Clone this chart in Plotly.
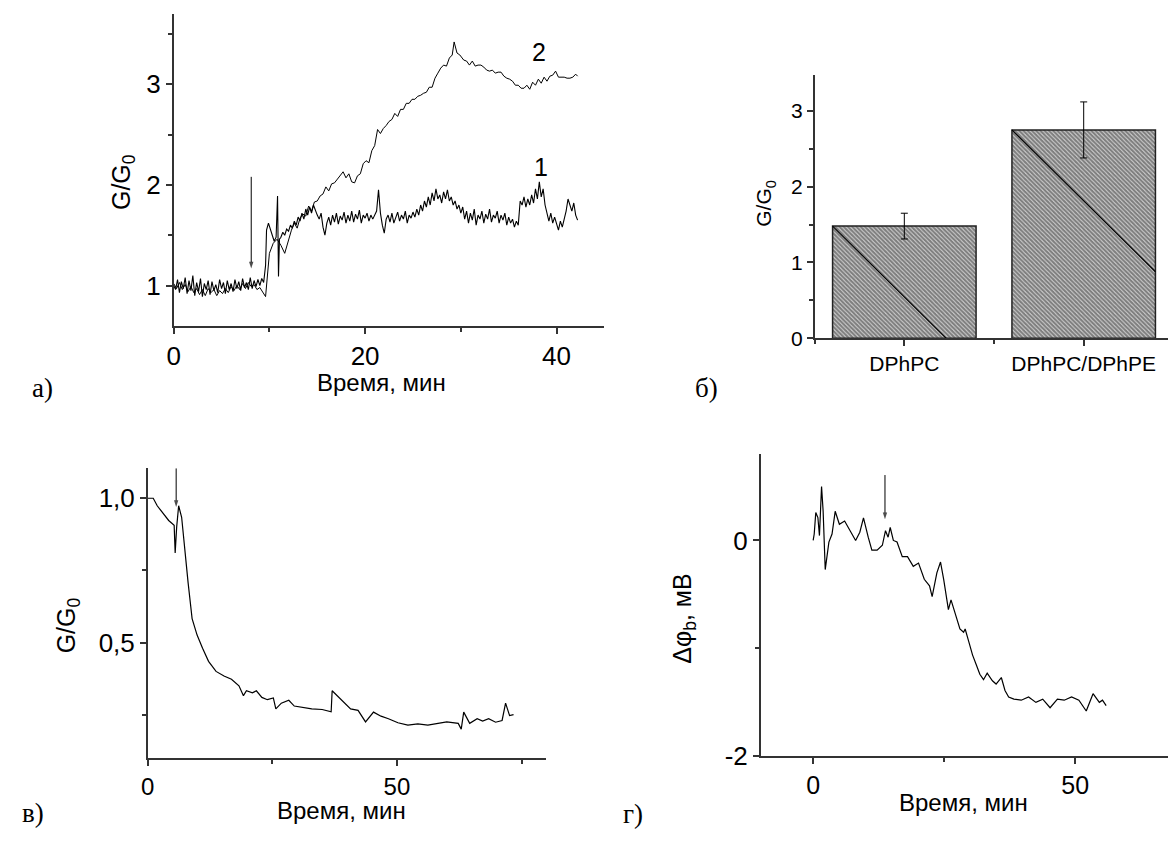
import plotly.graph_objects as go

# ---------------- data ----------------
# Panel а: G/G0 vs time, curve 1 (lower) and curve 2 (upper)
T1 = [0.0, 0.2, 0.4, 0.6, 0.8, 1.0, 1.2, 1.4, 1.6, 1.8, 2.0, 2.2, 2.4, 2.6, 2.8, 3.0, 3.2, 3.4, 3.6, 3.8,
      4.0, 4.2, 4.4, 4.6, 4.8, 5.0, 5.2, 5.4, 5.6, 5.8, 6.0, 6.2, 6.4, 6.6, 6.8, 7.0, 7.2, 7.4, 7.6, 7.8,
      8.0, 8.2, 8.4, 8.6, 8.8, 9.0, 9.2, 9.4,
      9.6, 9.7, 9.9, 10.1, 10.3, 10.5, 10.7, 10.85, 10.95, 11.05,
      11.2, 11.4, 11.6, 11.8, 12.0, 12.2, 12.4, 12.6, 12.8, 13.0, 13.2, 13.4, 13.6, 13.8, 14.0, 14.2, 14.4,
      14.6, 14.8, 15.0,
      15.2, 15.4, 15.6, 15.8, 16.0, 16.2, 16.4, 16.6, 16.8, 17.0, 17.2, 17.4, 17.6, 17.8, 18.0, 18.2, 18.4,
      18.6, 18.8, 19.0, 19.2, 19.4, 19.6, 19.8, 20.0,
      20.2, 20.4, 20.6, 20.8, 21.0, 21.2, 21.4, 21.6, 21.8, 22.0, 22.2, 22.4, 22.6, 22.8, 23.0, 23.2, 23.4,
      23.6, 23.8, 24.0, 24.2, 24.4, 24.6, 24.8, 25.0,
      25.2, 25.4, 25.6, 25.8, 26.0, 26.2, 26.4, 26.6, 26.8, 27.0, 27.2, 27.4, 27.6, 27.8, 28.0, 28.2, 28.4,
      28.6, 28.8, 29.0, 29.2, 29.4, 29.6, 29.8, 30.0,
      30.2, 30.4, 30.6, 30.8, 31.0, 31.2, 31.4, 31.6, 31.8, 32.0, 32.2, 32.4, 32.6, 32.8, 33.0, 33.2, 33.4,
      33.6, 33.8, 34.0, 34.2, 34.4, 34.6, 34.8, 35.0,
      35.2, 35.4, 35.6, 35.8, 36.0, 36.2, 36.4, 36.6, 36.8, 37.0, 37.2, 37.4, 37.6, 37.8, 38.0,
      38.2, 38.4, 38.6, 38.8, 39.0, 39.2, 39.4, 39.6, 39.8, 40.0, 40.2, 40.4, 40.6, 40.8, 41.0, 41.2, 41.4,
      41.6, 41.8, 42.0, 42.2]
G1 = [1.00, 0.96, 1.06, 0.93, 1.04, 0.97, 1.08, 0.92, 1.05, 0.95, 1.10, 0.90, 1.03, 0.94, 1.07, 0.89, 1.02, 0.96, 1.05, 0.91,
      1.04, 0.95, 1.01, 0.93, 1.06, 0.97, 1.03, 0.92, 1.05, 0.96, 1.02, 0.94, 1.06, 0.97, 1.04, 0.95, 1.07, 0.98, 1.03, 0.96,
      1.08, 0.97, 1.05, 0.99, 1.06, 1.00, 1.07, 1.03,
      1.20, 1.55, 1.62, 1.55, 1.50, 1.44, 1.48, 1.89, 1.09, 1.46,
      1.48, 1.53, 1.50, 1.56, 1.54, 1.60, 1.57, 1.64, 1.60, 1.68, 1.64, 1.72, 1.66, 1.76, 1.70, 1.78, 1.72,
      1.80, 1.74, 1.70,
      1.66, 1.72, 1.58, 1.50, 1.62, 1.68, 1.60, 1.70, 1.63, 1.72, 1.61, 1.69, 1.65, 1.73, 1.62, 1.70, 1.64,
      1.74, 1.63, 1.71, 1.66, 1.75, 1.62, 1.70, 1.67,
      1.72, 1.64, 1.70, 1.66, 1.70, 1.74, 1.95, 1.72, 1.60, 1.52, 1.66, 1.70, 1.63, 1.72, 1.62, 1.68, 1.73,
      1.64, 1.70, 1.66, 1.74, 1.62, 1.70, 1.67, 1.73,
      1.68, 1.76, 1.70, 1.80, 1.74, 1.84, 1.78, 1.88, 1.80, 1.92, 1.84, 1.96, 1.86, 1.90, 1.82, 1.93, 1.86,
      1.95, 1.84, 1.88, 1.80, 1.84, 1.76, 1.80, 1.72,
      1.78, 1.66, 1.74, 1.62, 1.72, 1.65, 1.76, 1.60, 1.70, 1.66, 1.74, 1.62, 1.71, 1.66, 1.76, 1.63, 1.70,
      1.67, 1.74, 1.62, 1.70, 1.65, 1.72, 1.60, 1.68,
      1.62, 1.66, 1.58, 1.64, 1.60, 1.84, 1.80, 1.88, 1.78, 1.86, 1.80, 1.90, 1.82, 1.96, 1.86,
      2.03, 1.88, 1.96, 1.80, 1.70, 1.64, 1.72, 1.62, 1.68, 1.60, 1.55, 1.64, 1.58, 1.66, 1.74, 1.86, 1.80,
      1.74, 1.82, 1.70, 1.65]

T2 = [0.0, 0.3, 0.6, 0.9, 1.2, 1.5, 1.8, 2.1, 2.4, 2.7, 3.0, 3.3, 3.6, 3.9, 4.2, 4.5, 4.8, 5.1, 5.4, 5.7,
      6.0, 6.3, 6.6, 6.9, 7.2, 7.5, 7.8, 8.1, 8.4, 8.7, 9.0, 9.3, 9.6, 10.0, 10.4, 10.8, 11.2, 11.6, 12.0,
      12.3, 12.6, 12.9, 13.2, 13.5, 13.8, 14.1, 14.4, 14.7, 15.0, 15.3, 15.6, 15.9, 16.2, 16.5, 16.8, 17.1,
      17.4, 17.7, 18.0, 18.3, 18.6, 18.9, 19.2, 19.5, 19.8, 20.1, 20.4, 20.7, 21.0, 21.3, 21.6, 21.9, 22.2,
      22.5, 22.8, 23.1, 23.4, 23.7, 24.0, 24.3, 24.6, 24.9, 25.2, 25.5, 25.8, 26.1, 26.4, 26.7, 27.0, 27.3,
      27.6, 27.9, 28.2, 28.5, 28.8, 29.1, 29.3, 29.6, 29.9, 30.3, 30.6, 30.9, 31.2, 31.5, 31.8, 32.1, 32.4,
      32.7, 33.0, 33.3, 33.6, 33.9, 34.2, 34.5, 34.8, 35.1, 35.4, 35.7, 36.0, 36.3, 36.6, 36.9, 37.2, 37.5,
      37.8, 38.1, 38.4, 38.7, 39.0, 39.3, 39.6, 39.9, 40.2, 40.5, 40.8, 41.1, 41.4, 41.7, 42.0, 42.2]
G2 = [1.02, 0.97, 1.03, 0.96, 1.01, 0.94, 0.99, 0.93, 0.97, 0.91, 0.96, 0.90, 0.97, 0.93, 0.96, 0.90, 0.95, 0.92, 0.97, 0.93,
      0.99, 0.95, 1.00, 0.96, 1.02, 0.97, 1.03, 0.99, 1.01, 0.96, 0.98, 0.93, 0.89, 1.32, 1.42, 1.46, 1.40, 1.32, 1.45,
      1.55, 1.62, 1.57, 1.67, 1.71, 1.69, 1.79, 1.74, 1.83, 1.84, 1.89, 1.91, 1.98, 1.94, 2.01, 2.02, 2.06,
      2.09, 2.13, 2.07, 2.11, 2.03, 2.02, 2.09, 2.11, 2.21, 2.24, 2.22, 2.34, 2.39, 2.55, 2.51, 2.56, 2.59,
      2.63, 2.65, 2.71, 2.68, 2.75, 2.75, 2.81, 2.81, 2.85, 2.85, 2.88, 2.89, 2.91, 2.92, 2.97, 2.97, 3.06,
      3.11, 3.16, 3.19, 3.18, 3.26, 3.29, 3.42, 3.31, 3.29, 3.24, 3.23, 3.19, 3.23, 3.18, 3.19, 3.19, 3.17,
      3.14, 3.13, 3.14, 3.11, 3.12, 3.12, 3.08, 3.06, 3.05, 3.03, 2.99, 2.99, 2.96, 2.96, 2.99, 2.95, 3.02,
      2.99, 3.05, 3.01, 3.07, 3.03, 3.08, 3.09, 3.13, 3.07, 3.07, 3.07, 3.06, 3.06, 3.07, 3.10, 3.08]

ARROW_A = (8.1, 2.08, 1.17)   # time, tail value, head value
LABELS_A = [("2", 38.2, 3.32), ("1", 38.4, 2.18)]

# Panel б: bar chart
CATS = ["DPhPC", "DPhPC/DPhPE"]
BAR_VALS = [1.48, 2.75]
BAR_ERR = [0.17, 0.37]

# Panel в: G/G0 vs time
TC = [0.0, 1.1, 1.9, 3.0, 4.2, 5.3, 5.5, 5.8, 6.2, 6.8, 7.4, 8.1, 8.9, 9.9, 11.0, 12.2, 13.7, 15.3, 16.8,
      18.3, 19.2, 19.8, 21.0, 21.8, 22.9, 24.0, 25.2, 25.7, 26.8, 28.3, 29.4, 31.0, 32.9, 35.0, 36.8, 37.0,
      38.4, 39.5, 40.7, 42.2, 43.7, 45.3, 46.8, 48.3, 50.2, 52.2, 54.2, 56.2, 58.0, 60.0, 62.3, 62.9, 63.4,
      64.6, 66.1, 67.2, 68.4, 69.8, 71.1, 71.8, 72.6, 73.4]
GC = [1.00, 1.00, 0.974, 0.951, 0.923, 0.906, 0.81, 0.90, 0.974, 0.934, 0.821, 0.707, 0.583, 0.526, 0.48,
      0.435, 0.40, 0.384, 0.373, 0.35, 0.316, 0.333, 0.326, 0.333, 0.31, 0.302, 0.308, 0.27, 0.29, 0.30,
      0.28, 0.276, 0.27, 0.268, 0.26, 0.333, 0.31, 0.29, 0.27, 0.265, 0.225, 0.259, 0.245, 0.236, 0.222,
      0.214, 0.218, 0.214, 0.220, 0.225, 0.22, 0.20, 0.259, 0.22, 0.236, 0.228, 0.236, 0.224, 0.23, 0.29,
      0.247, 0.25]
ARROW_C = (5.7, 1.104, 0.97)

# Panel г: Δφb vs time
TD = [0.0, 0.2, 0.5, 0.9, 1.2, 1.6, 1.9, 2.3, 3.0, 3.6, 4.2, 5.0, 6.0, 7.1, 8.1, 8.9, 9.6, 10.5, 11.2,
      12.2, 13.2, 13.8, 14.3, 14.7, 15.3, 16.0, 17.0, 18.0, 19.1, 20.1, 21.2, 22.2, 22.7, 23.6, 24.3, 24.9,
      25.8, 26.3, 27.3, 28.0, 28.7, 29.0, 29.7, 30.4, 31.1, 31.8, 32.5, 33.2, 34.2, 34.9, 35.9, 36.6, 37.3,
      38.3, 39.7, 41.1, 42.5, 43.8, 45.2, 46.6, 47.9, 49.3, 50.7, 52.1, 53.4, 54.6, 55.2, 55.9]
PD = [0.0, 0.06, 0.258, 0.212, 0.045, 0.50, 0.273, -0.27, -0.015, 0.06, 0.27, 0.15, 0.18, 0.09, 0.0,
      0.076, 0.21, 0.03, -0.09, -0.09, -0.045, 0.09, 0.03, 0.12, 0.0, -0.015, -0.15, -0.15, -0.24, -0.21,
      -0.36, -0.42, -0.52, -0.30, -0.20, -0.36, -0.64, -0.55, -0.70, -0.82, -0.85, -0.82, -0.94, -1.06,
      -1.15, -1.24, -1.29, -1.23, -1.30, -1.33, -1.27, -1.39, -1.45, -1.47, -1.48, -1.45, -1.50, -1.47,
      -1.55, -1.47, -1.48, -1.45, -1.48, -1.58, -1.42, -1.50, -1.48, -1.53]
ARROW_D = (13.7, 0.606, 0.197)

# ---------------- layout constants ----------------
W, H = 1168, 845
SANS = "Liberation Sans, Arial, sans-serif"
SERIF = "Liberation Serif, Times New Roman, serif"
AX = "#333333"


def px_x(p):
    return p / W


def px_y(p):
    return 1 - p / H


DOM = {
    "a": dict(x=[px_x(167.7), px_x(601)], y=[px_y(331.7), px_y(14)]),
    "b": dict(x=[px_x(812.5), 1.0], y=[px_y(344.3), px_y(76)]),
    "c": dict(x=[px_x(141.6), px_x(542.7)], y=[px_y(771.7), px_y(476.7)]),
    "d": dict(x=[px_x(758.3), 1.0], y=[px_y(770), px_y(462.3)]),
}
RANGE = {
    "a": dict(x=[0, 45], y=[0.6, 3.7]),
    "b": dict(x=[0.5, 2.47], y=[0, 3.48]),
    "c": dict(x=[0, 80], y=[0.1, 1.104]),
    "d": dict(x=[-10, 67.7], y=[-2, 0.8]),
}

fig = go.Figure()

fig.add_trace(go.Scatter(x=T1, y=G1, mode="lines", line=dict(color="black", width=1.1),
                         xaxis="x", yaxis="y", showlegend=False))
fig.add_trace(go.Scatter(x=T2, y=G2, mode="lines", line=dict(color="black", width=1),
                         xaxis="x", yaxis="y", showlegend=False))

fig.add_trace(go.Bar(
    x=[1, 2], y=BAR_VALS, width=0.8, xaxis="x2", yaxis="y2", showlegend=False,
    marker=dict(color="white", line=dict(color="#222222", width=1.5),
                pattern=dict(shape="\\", fgcolor="black", bgcolor="white", size=3, solidity=0.8)),
    error_y=dict(type="data", array=BAR_ERR, color="black", thickness=1, width=3.5),
))

# single darker diagonal line inside each bar (45 deg in screen space)
bx0, bx1 = DOM["b"]["x"]
by0, by1 = DOM["b"]["y"]
sx = (bx1 - bx0) * W / (RANGE["b"]["x"][1] - RANGE["b"]["x"][0])
sy = (by1 - by0) * H / (RANGE["b"]["y"][1] - RANGE["b"]["y"][0])
for i, v in enumerate(BAR_VALS):
    xl, xr = (i + 1) - 0.4, (i + 1) + 0.4
    dx_full = v * sy / sx
    if xl + dx_full <= xr:
        xe, ye = xl + dx_full, 0
    else:
        xe, ye = xr, v - (xr - xl) * sx / sy
    fig.add_trace(go.Scatter(x=[xl, xe], y=[v, ye], mode="lines", line=dict(color="black", width=1.2),
                             xaxis="x2", yaxis="y2", showlegend=False, hoverinfo="skip"))

fig.add_trace(go.Scatter(x=TC, y=GC, mode="lines", line=dict(color="black", width=1.2),
                         xaxis="x3", yaxis="y3", showlegend=False))
fig.add_trace(go.Scatter(x=TD, y=PD, mode="lines", line=dict(color="black", width=1.2),
                         xaxis="x4", yaxis="y4", showlegend=False))

# arrows marking the moment of addition
for (t, tail, head), xa, ya in [(ARROW_A, "x", "y"), (ARROW_C, "x3", "y3"), (ARROW_D, "x4", "y4")]:
    fig.add_trace(go.Scatter(
        x=[t, t], y=[tail, head], mode="lines+markers", xaxis=xa, yaxis=ya, showlegend=False,
        hoverinfo="skip", line=dict(color="black", width=1),
        marker=dict(symbol=["line-ns", "arrow"], size=[0, 7], angleref="previous", color="black",
                    line=dict(width=0)),
    ))

common = dict(showline=True, linecolor=AX, linewidth=1.5, ticks="outside", ticklen=6, tickwidth=1.5,
              tickcolor=AX, showgrid=False, zeroline=False, mirror=False, fixedrange=True,
              tickfont=dict(family=SANS, size=26, color="black"))


def minor(dt, t0=0):
    return dict(ticks="outside", ticklen=4, tickwidth=1.5, tickcolor=AX, dtick=dt, tick0=t0, showgrid=False)


layout = dict(
    width=W, height=H, margin=dict(l=0, r=0, t=0, b=0),
    paper_bgcolor="white", plot_bgcolor="white", showlegend=False,
    xaxis=dict(common, domain=DOM["a"]["x"], range=RANGE["a"]["x"], anchor="y", tick0=0, dtick=20,
               minor=minor(10)),
    yaxis=dict(common, domain=DOM["a"]["y"], range=RANGE["a"]["y"], anchor="x", tick0=0, dtick=1,
               minor=minor(0.5)),
    xaxis2=dict(common, domain=DOM["b"]["x"], range=RANGE["b"]["x"], anchor="y2", tickmode="array",
                tickvals=[1, 2], ticktext=CATS, tickfont=dict(family=SANS, size=21, color="black"),
                minor=minor(1, 0.5)),
    yaxis2=dict(common, domain=DOM["b"]["y"], range=RANGE["b"]["y"], anchor="x2", tick0=0, dtick=1,
                tickfont=dict(family=SANS, size=21, color="black"), minor=minor(0.5)),
    xaxis3=dict(common, domain=DOM["c"]["x"], range=RANGE["c"]["x"], anchor="y3", tick0=0, dtick=50,
                minor=minor(25), tickfont=dict(family=SANS, size=24, color="black")),
    yaxis3=dict(common, domain=DOM["c"]["y"], range=RANGE["c"]["y"], anchor="x3", tickmode="array",
                tickvals=[0.5, 1.0], ticktext=["0,5", "1,0"], minor=minor(0.25)),
    xaxis4=dict(common, domain=DOM["d"]["x"], range=RANGE["d"]["x"], anchor="y4", tick0=0, dtick=50,
                minor=minor(25), tickfont=dict(family=SANS, size=25, color="black")),
    yaxis4=dict(common, domain=DOM["d"]["y"], range=RANGE["d"]["y"], anchor="x4", tickmode="array",
                tickvals=[-2, 0], ticktext=["-2", "0"], minor=minor(1)),
)
fig.update_layout(**layout)

ann = []


def text(x, y, s, size, family=SANS, angle=0):
    ann.append(dict(xref="paper", yref="paper", x=px_x(x), y=px_y(y), text=s, showarrow=False,
                    xanchor="center", yanchor="middle", textangle=angle,
                    font=dict(family=family, size=size, color="black")))


# axis titles
text(377, 389, "Время, мин", 24)
text(116, 185, "G/G<sub>0</sub>", 25, angle=-90)
text(763, 207, "G/G<sub>0</sub>", 21, angle=-90)
text(337, 825, "Время, мин", 24)
text(61, 637, "G/G<sub>0</sub>", 25, angle=-90)
text(962, 817, "Время, мин", 24)
text(681, 630, "Δφ<sub>b</sub>, мВ", 25, angle=-90)
# panel letters
text(36, 395, "а)", 27, SERIF)
text(704, 395, "б)", 27, SERIF)
text(26, 828, "в)", 27, SERIF)
text(630, 829, "г)", 27, SERIF)

# curve numbers in panel а
for s, xv, yv in LABELS_A:
    ann.append(dict(xref="x", yref="y", x=xv, y=yv, text=s, showarrow=False,
                    font=dict(family=SANS, size=25, color="black")))

fig.update_layout(annotations=ann)
fig.write_html("out.html")
